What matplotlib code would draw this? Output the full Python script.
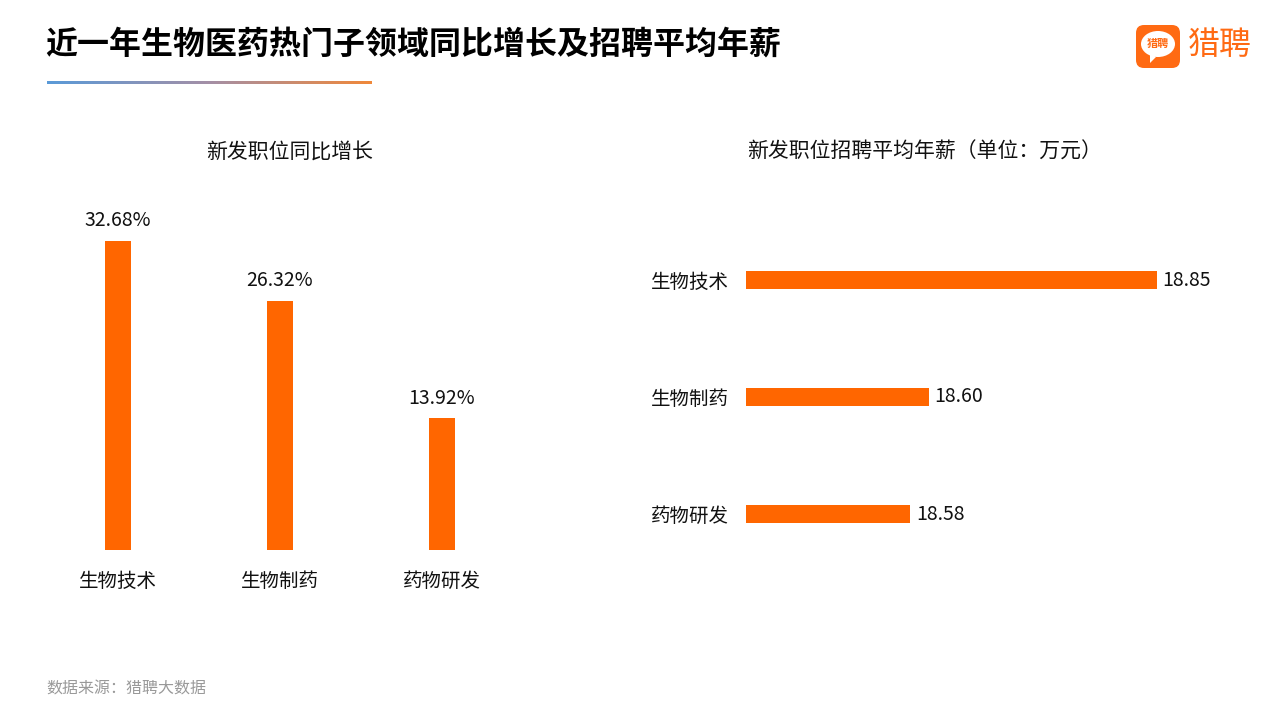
import numpy as np
import matplotlib
matplotlib.use("Agg")
import matplotlib.pyplot as plt
from matplotlib.colors import LinearSegmentedColormap
from matplotlib.patches import FancyBboxPatch, Ellipse, Polygon

plt.rcParams['font.family'] = ['Noto Sans CJK SC', 'DejaVu Sans']

# data
growth_cats = ["生物技术", "生物制药", "药物研发"]
growth_vals = [32.68, 26.32, 13.92]
salary_cats = ["生物技术", "生物制药", "药物研发"]
salary_vals = [18.85, 18.60, 18.58]

ORANGE = "#ff6600"
W, H = 1280, 720


def px_axes(fig, left, top, right, bottom):
    # pixel box -> figure fraction
    return fig.add_axes([left / W, 1 - bottom / H, (right - left) / W, (bottom - top) / H])


fig = plt.figure(figsize=(12.8, 7.2), dpi=100)
fig.patch.set_facecolor("white")

# left: vertical bars
ax1 = px_axes(fig, 37, 200, 523, 550)
x = np.arange(len(growth_cats))
ax1.bar(x, growth_vals, width=0.16, color=ORANGE)
ax1.set_xlim(-0.5, 2.5)
ax1.set_ylim(0, 37.0)
for xi, v in zip(x, growth_vals):
    ax1.annotate(f"{v:.2f}%", (xi, v), xytext=(0, 7), textcoords="offset points",
                 ha="center", va="bottom", fontsize=14, color="#111111")
ax1.set_xticks(x)
ax1.set_xticklabels(growth_cats, fontsize=14, color="#111111")
ax1.tick_params(axis="x", length=0, pad=15)
ax1.set_yticks([])
for s in ax1.spines.values():
    s.set_visible(False)

# right: horizontal bars
ax2 = px_axes(fig, 746, 221.5, 1240, 572.5)
y = np.arange(len(salary_cats))
ax2.barh(y, salary_vals, height=0.154, color=ORANGE)
ax2.set_xlim(18.4, 18.941)
ax2.set_ylim(2.5, -0.5)
for yi, v in zip(y, salary_vals):
    ax2.annotate(f"{v:.2f}", (v, yi), xytext=(4, 0), textcoords="offset points",
                 ha="left", va="center", fontsize=14, color="#111111")
ax2.set_yticks(y)
ax2.set_yticklabels(salary_cats, fontsize=14, color="#111111")
ax2.tick_params(axis="y", length=0, pad=12)
ax2.set_xticks([])
for s in ax2.spines.values():
    s.set_visible(False)

# overlay for titles and decorations
ov = fig.add_axes([0, 0, 1, 1], zorder=-1)
ov.set_xlim(0, W)
ov.set_ylim(H, 0)
ov.axis("off")

ov.text(45, 45, "近一年生物医药热门子领域同比增长及招聘平均年薪", fontsize=23,
        fontweight="bold", color="#000000", ha="left", va="center")
grad = LinearSegmentedColormap.from_list("g", ["#5a9ad8", "#a48fa6", "#f0883a"])
ov.imshow(np.linspace(0, 1, 256)[None, :], cmap=grad, extent=[47, 372, 84, 81],
          aspect="auto", zorder=2)

ov.text(290, 152, "新发职位同比增长", fontsize=15, color="#111111", ha="center", va="center")
ov.text(925, 152, "新发职位招聘平均年薪（单位：万元）", fontsize=15, color="#111111",
        ha="center", va="center")

ov.text(46, 689, "数据来源：猎聘大数据", fontsize=11.5, color="#999999", ha="left", va="center")

# logo
ov.add_patch(FancyBboxPatch((1138, 27), 40, 39, boxstyle="round,pad=2,rounding_size=8",
                            facecolor="#ff6a13", edgecolor="none", zorder=2))
ov.add_patch(Ellipse((1158, 44), 34, 26, facecolor="white", edgecolor="none", zorder=3))
ov.add_patch(Polygon([[1150, 53], [1156, 57], [1150, 63]], closed=True,
                     facecolor="white", edgecolor="none", zorder=3))
ov.text(1158, 44, "猎聘", fontsize=8, fontweight="bold", color="#ff6a13",
        ha="center", va="center", zorder=4)
ov.text(1220, 45, "猎聘", fontsize=23, fontweight="medium", color="#ff6a13",
        ha="center", va="center")

fig.savefig("out.png", dpi=100, facecolor="white")
